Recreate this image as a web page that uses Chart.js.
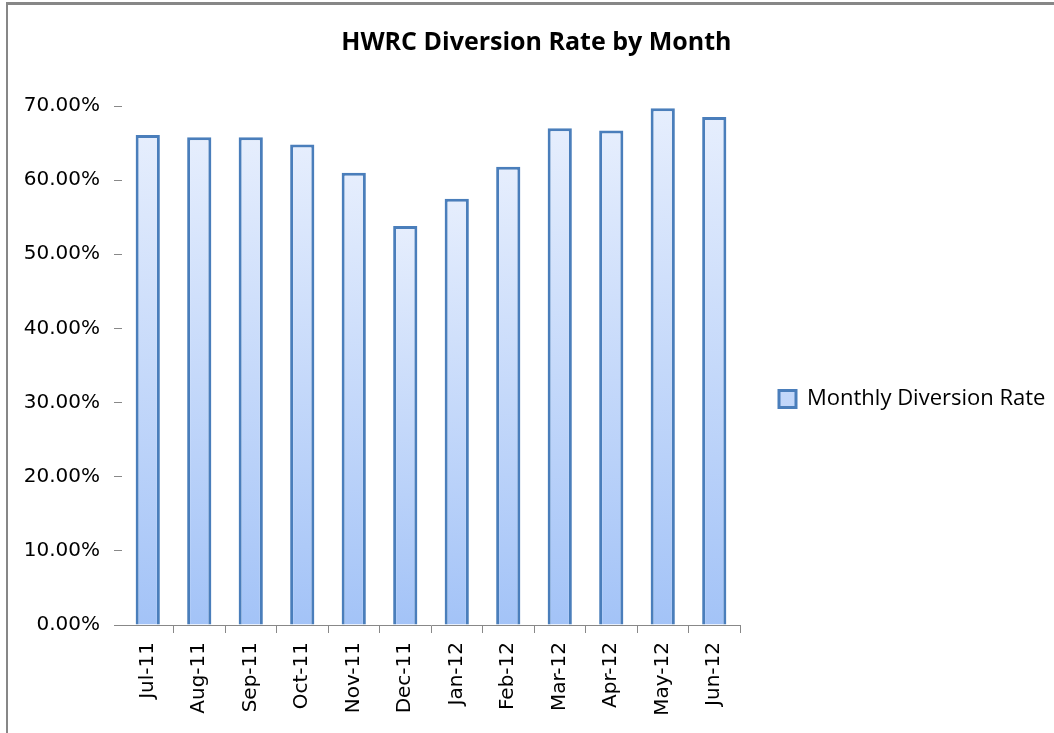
<!DOCTYPE html>
<html>
<head>
<meta charset="utf-8">
<script src="https://cdn.jsdelivr.net/npm/chart.js@4.4.0/dist/chart.umd.min.js"></script>
<style>
  html, body { margin: 0; padding: 0; background: #fff; }
</style>
</head>
<body>
<canvas id="chart" width="1054" height="733"></canvas>
<script>
// values (percent)
const months = ['Jul-11', 'Aug-11', 'Sep-11', 'Oct-11', 'Nov-11', 'Dec-11',
                'Jan-12', 'Feb-12', 'Mar-12', 'Apr-12', 'May-12', 'Jun-12'];
const diversionRate = [66.1, 65.8, 65.8, 64.8, 61.0, 53.8, 57.5, 61.8, 67.0, 66.7, 69.7, 68.5];
const seriesName = 'Monthly Diversion Rate';
const chartTitle = 'HWRC Diversion Rate by Month';

// layout: plot runs from x=122 to x=740, legend sits right of it
const padLeft = 18.8;   // keeps the title centred at ~536
const plotLeft = 122;
const plotRight = 740;

// grey frame on the left and top edges
const framePlugin = {
    id: 'frame',
    beforeDraw(chart) {
        const ctx = chart.ctx;
        ctx.save();
        ctx.strokeStyle = '#878787';
        ctx.lineWidth = 2;
        ctx.beginPath();
        ctx.moveTo(7, 733);
        ctx.lineTo(7, 3);
        ctx.stroke();
        ctx.lineWidth = 3;
        ctx.beginPath();
        ctx.moveTo(6, 3.5);
        ctx.lineTo(1054, 3.5);
        ctx.stroke();
        ctx.restore();
    }
};

function barFill(context) {
    const chart = context.chart;
    const y = chart.scales && chart.scales.y;
    if (context.type !== 'data' || !y) return '#c6dbfa';
    const top = y.getPixelForValue(diversionRate[context.dataIndex]);
    const bottom = y.getPixelForValue(0);
    if (!isFinite(top) || !isFinite(bottom) || top === bottom) return '#c6dbfa';
    const g = chart.ctx.createLinearGradient(0, top, 0, bottom);
    g.addColorStop(0, '#e6eefd');
    g.addColorStop(1, '#a3c3f7');
    return g;
}

const ctx = document.getElementById('chart').getContext('2d');
const chart = new Chart(ctx, {
    type: 'bar',
    data: {
        labels: months,
        datasets: [{
            label: seriesName,
            data: diversionRate,
            backgroundColor: barFill,
            borderColor: '#4a7ebb',
            borderWidth: 3,
            barPercentage: 0.47,
            categoryPercentage: 1.0
        }]
    },
    options: {
        responsive: false,
        animation: false,
        layout: {
            padding: { left: padLeft, right: 0, top: 0, bottom: 0 }
        },
        plugins: {
            title: {
                display: true,
                text: chartTitle,
                color: '#000',
                font: { family: 'Open Sans', size: 25, weight: 'bold', lineHeight: 1.2 },
                padding: { top: 28, bottom: 48 }
            },
            legend: {
                position: 'right',
                align: 'center',
                maxWidth: 1054 - plotRight,
                // blank title only nudges the item down to y~399
                title: { display: true, text: ' ', padding: 0, font: { size: 54, lineHeight: 1.2 } },
                labels: {
                    boxWidth: 17,
                    boxHeight: 17,
                    padding: 39,
                    color: '#000',
                    font: { family: 'Open Sans', size: 22 }
                }
            },
            tooltip: { enabled: false }
        },
        scales: {
            x: {
                afterFit: function(scale) { scale.height = 108; },
                border: { display: true, color: '#888', width: 1 },
                grid: {
                    drawOnChartArea: false,
                    drawTicks: true,
                    tickLength: 8,
                    color: c => c.index === 0 ? 'rgba(0,0,0,0)' : '#888'
                },
                ticks: {
                    autoSkip: false,
                    minRotation: 90,
                    maxRotation: 90,
                    padding: 9,
                    color: '#000',
                    font: { family: 'DejaVu Sans', size: 20 }
                }
            },
            y: {
                min: 0,
                max: 70,
                afterFit: function(scale) { scale.width = plotLeft - padLeft; },
                border: { display: false },
                grid: {
                    drawOnChartArea: false,
                    drawTicks: true,
                    tickLength: 8,
                    color: '#888'
                },
                ticks: {
                    stepSize: 10,
                    padding: 14,
                    color: '#000',
                    font: { family: 'DejaVu Sans', size: 20 },
                    callback: v => v.toFixed(2) + '%'
                }
            }
        }
    },
    plugins: [framePlugin]
});
// the bar gradients depend on the final scale, so redraw once layout is known
chart.update();
</script>
</body>
</html>
